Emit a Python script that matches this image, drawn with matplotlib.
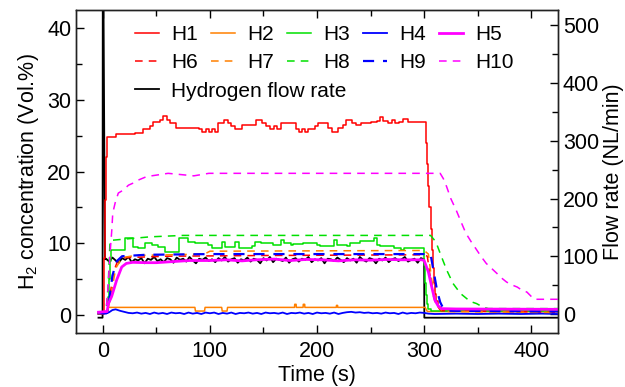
import numpy as np
import matplotlib
matplotlib.use("Agg")
import matplotlib.pyplot as plt
from matplotlib.ticker import MultipleLocator

plt.rcParams['font.family'] = ['Liberation Sans', 'DejaVu Sans']
plt.rcParams['mathtext.fontset'] = 'custom'
plt.rcParams['mathtext.rm'] = 'Liberation Sans'

# ---- data ----
h1_t = [-4, 1, 2, 3, 4, 12, 30, 38, 44, 47, 53, 56, 60, 63, 68, 90, 93, 96, 99, 102,
        105, 108, 113, 117, 120, 123, 130, 143, 149, 152, 156, 160, 163, 166, 180, 183,
        186, 189, 192, 198, 201, 210, 214, 220, 224, 227, 233, 236, 241, 250, 256, 259,
        262, 266, 270, 273, 277, 280, 285, 300, 302, 303, 304, 305, 306, 307, 308, 309,
        310, 311, 313, 316, 319, 425]
h1_v = [0.2, 8, 16, 22, 24.8, 25.2, 25.4, 25.9, 26.3, 26.9, 27.2, 27.7, 27.2, 26.7, 26.1,
        25.9, 25.5, 25.9, 25.5, 25.9, 25.5, 26.7, 27.2, 26.7, 26.3, 25.9, 26.5, 27.2, 26.7,
        26.3, 25.9, 26.3, 25.9, 26.7, 25.9, 25.5, 25.9, 25.5, 25.9, 26.3, 26.7, 26.1, 25.5,
        26.1, 26.5, 27.2, 26.7, 26.5, 26.7, 26.9, 27.0, 27.6, 27.0, 26.7, 27.2, 26.7, 26.9,
        27.3, 26.9, 26.9, 24, 21, 18, 15, 12, 9, 6.5, 4.5, 3, 2, 1.1, 0.7, 0.6, 0.6]

h2_t = [-4, 4, 5, 86, 86.5, 95, 95.5, 111, 111.5, 116, 116.5, 179, 179.2, 180.5, 180.7,
        187, 187.2, 188.5, 188.7, 218, 218.2, 219.2, 219.4, 301, 303, 425]
h2_v = [0.3, 0.3, 1.07, 1.07, 0.56, 0.56, 1.07, 1.07, 0.56, 0.56, 1.07, 1.07, 1.5, 1.5,
        1.07, 1.07, 1.5, 1.5, 1.07, 1.07, 1.35, 1.35, 1.07, 1.07, 0.5, 0.45]

h3_t = [-4, 4, 5, 6, 7, 8, 9, 21, 28, 33, 39, 46, 52, 58, 71, 80, 86, 98, 102, 111, 114,
        123, 127, 139, 142, 148, 159, 166, 169, 176, 178, 187, 200, 203, 216, 219, 228,
        231, 240, 253, 256, 259, 272, 278, 281, 296, 300, 301, 302, 303, 304, 306, 310, 425]
h3_v = [0.3, 0.5, 2.5, 5, 7.5, 9.1, 9.1, 10.7, 9.5, 9.3, 10.0, 9.8, 9.5, 8.8, 10.7, 10.2,
        10.0, 9.8, 9.3, 10.2, 9.5, 10.2, 9.3, 9.6, 10.2, 10.0, 9.8, 10.4, 10.0, 9.8, 9.9,
        10.0, 9.8, 9.6, 10.4, 9.8, 9.6, 10.0, 10.3, 10.7, 9.8, 9.6, 9.3, 9.1, 9.3, 9.3, 7,
        4.5, 2.8, 1.6, 0.8, 0.5, 0.5, 0.5]

h4_t = [-4, 3, 6, 9, 12, 16, 20, 24, 28, 32, 36, 40, 44, 48, 52, 56, 60, 64, 68, 72, 76,
        80, 84, 88, 92, 96, 100, 104, 108, 112, 116, 120, 124, 128, 132, 136, 140, 144,
        148, 152, 156, 160, 164, 168, 172, 176, 180, 184, 188, 192, 196, 200, 204, 208,
        212, 216, 220, 224, 228, 232, 236, 240, 244, 248, 252, 256, 260, 264, 268, 272,
        276, 280, 284, 288, 292, 296, 300, 304, 310, 330, 350, 370, 390, 410, 425]
h4_v = [0.2, 0.2, 0.4, 0.7, 0.8, 0.6, 0.45, 0.3, 0.25, 0.35, 0.2, 0.3, 0.15, 0.35, 0.2,
        0.3, 0.15, 0.35, 0.25, 0.3, 0.15, 0.35, 0.2, 0.3, 0.15, 0.35, 0.25, 0.35, 0.15,
        0.3, 0.2, 0.35, 0.15, 0.3, 0.25, 0.35, 0.2, 0.3, 0.15, 0.35, 0.25, 0.3, 0.2, 0.35,
        0.15, 0.3, 0.25, 0.35, 0.2, 0.3, 0.15, 0.35, 0.25, 0.3, 0.2, 0.35, 0.15, 0.3, 0.4,
        0.45, 0.35, 0.4, 0.3, 0.35, 0.25, 0.3, 0.2, 0.35, 0.25, 0.3, 0.15, 0.35, 0.2, 0.3,
        0.25, 0.35, 0.3, 0.2, 0.15, 0.2, 0.15, 0.2, 0.15, 0.2, 0.15]

h5_t = [-4, 4, 5.3, 8.3, 13, 17.7, 22, 28, 40, 50, 65, 81, 100, 115, 130, 143, 160, 175,
        190, 205, 220, 235, 250, 265, 280, 298, 300, 304, 307, 310, 313, 316, 330, 425]
h5_v = [0.4, 0.5, 1.6, 2.6, 4.9, 6.7, 7.2, 7.35, 7.3, 7.3, 7.45, 7.6, 7.6, 7.7, 7.55, 7.7,
        7.8, 7.6, 7.75, 7.7, 7.55, 7.7, 7.65, 7.75, 7.7, 7.7, 7.6, 6.0, 4.0, 2.1, 1.3, 0.9,
        0.85, 0.8]

h6_t = [-4, 4, 7, 10, 14, 20, 60, 150, 300, 303, 306, 309, 312, 316, 425]
h6_v = [0.3, 0.3, 3, 6, 7.6, 8.0, 8.2, 8.3, 8.4, 8.2, 5, 2.5, 1.2, 0.6, 0.4]

h7_t = [-4, 4, 8, 12, 18, 30, 95, 100, 300, 304, 307, 310, 314, 318, 425]
h7_v = [0.2, 0.3, 3, 6.5, 8.0, 8.3, 8.5, 8.9, 9.0, 8.5, 5, 2.5, 1.0, 0.5, 0.35]

h8_t = [-4, 3, 5, 6.8, 44, 75, 306, 311, 315, 321, 327, 334, 343, 349, 355, 360, 425]
h8_v = [0.2, 0.4, 4, 10.4, 10.9, 11.1, 11.1, 10.2, 8.6, 6.3, 4.4, 3.0, 1.9, 1.6, 1.1, 0.9, 0.9]

h9_t = [-4, 4, 6, 9, 13, 18, 40, 100, 306, 309, 312, 315, 318, 322, 425]
h9_v = [0.3, 0.3, 2, 5.5, 7.5, 8.2, 8.4, 8.5, 8.5, 6, 3.5, 1.8, 0.9, 0.6, 0.5]

h10_t = [-4, 3, 5, 7, 8.5, 9.3, 11.5, 14.5, 19, 24, 28.5, 33, 41, 50, 61, 85, 99, 315,
         318, 321, 325, 330, 335, 339, 344, 349, 353, 358, 363, 368, 372, 377, 382, 387,
         391, 396, 400, 403, 425]
h10_v = [0.3, 0.5, 4, 9, 12, 14.2, 15.6, 17, 17.4, 18.1, 18.4, 18.8, 19.3, 19.5, 19.75,
         19.4, 19.75, 19.75, 19, 17.9, 16.2, 14.6, 12.8, 11.4, 10.2, 9.1, 8.2, 7.2, 6.5,
         5.8, 5.2, 4.6, 4.2, 3.9, 3.5, 3.2, 2.6, 2.2, 2.2]

# hydrogen flow rate (right axis, NL/min)
flow_start_t = [-4, -0.2, 0, 0.5, 2]
flow_start_v = [-6, -6, 600, 600, 95]
flow_t = np.arange(3, 301, 3)
flow_v = [96, 91, 98, 93, 89, 97, 94, 99, 90, 95,
          93, 97, 88, 96, 94, 99, 92, 95, 90, 97,
          95, 89, 98, 94, 96, 91, 99, 93, 88, 96,
          94, 98, 92, 95, 90, 97, 93, 99, 91, 95,
          97, 89, 95, 93, 98, 91, 96, 94, 88, 97,
          93, 99, 90, 96, 94, 92, 98, 89, 95, 97,
          91, 96, 94, 99, 90, 95, 93, 97, 88, 96,
          95, 92, 98, 94, 90, 97, 93, 96, 89, 99,
          94, 91, 97, 95, 88, 96, 93, 98, 90, 95,
          97, 92, 95, 99, 91, 94, 96, 89, 97, 95]
flow_end_t = [300.2, 425]
flow_end_v = [-6, -6]

RED, ORANGE, GREEN, BLUE, MAG = '#ff0000', '#ff8000', '#00e000', '#0000ff', '#ff00ff'
dash = (0, (5, 4))
FS = 15.5

fig = plt.figure(figsize=(6.25, 3.87), dpi=100)
ax = fig.add_axes([0.1216, 0.1395, 0.7712, 0.8345])
ax2 = ax.twinx()
# concentration lines drawn above the flow-rate line
ax.set_zorder(2)
ax.patch.set_visible(False)

lf, = ax2.plot(np.concatenate([flow_start_t, flow_t, flow_end_t]),
               np.concatenate([flow_start_v, flow_v, flow_end_v]),
               color='black', lw=1.3, label='Hydrogen flow rate')

l1, = ax.plot(h1_t, h1_v, color=RED, lw=1.1, drawstyle='steps-post', label='H1')
l2, = ax.plot(h2_t, h2_v, color=ORANGE, lw=1.1, label='H2')
l3, = ax.plot(h3_t, h3_v, color=GREEN, lw=1.1, drawstyle='steps-post', label='H3')
l4, = ax.plot(h4_t, h4_v, color=BLUE, lw=1.3, label='H4')
l6, = ax.plot(h6_t, h6_v, color=RED, lw=1.1, ls=dash, label='H6')
l7, = ax.plot(h7_t, h7_v, color=ORANGE, lw=1.1, ls=dash, label='H7')
l8, = ax.plot(h8_t, h8_v, color=GREEN, lw=1.1, ls=dash, label='H8')
l9, = ax.plot(h9_t, h9_v, color=BLUE, lw=1.6, ls=dash, label='H9')
l10, = ax.plot(h10_t, h10_v, color=MAG, lw=1.1, ls=dash, label='H10')
l5, = ax.plot(h5_t, h5_v, color=MAG, lw=2.0, label='H5')

ax.set_xlim(-25, 425)
ax.set_ylim(-2.5, 42.5)
ax2.set_ylim(-32.5, 526)

ax.xaxis.set_major_locator(MultipleLocator(100))
ax.xaxis.set_minor_locator(MultipleLocator(50))
ax.yaxis.set_major_locator(MultipleLocator(10))
ax.yaxis.set_minor_locator(MultipleLocator(5))
ax2.yaxis.set_major_locator(MultipleLocator(100))
ax2.yaxis.set_minor_locator(MultipleLocator(50))

ax.tick_params(axis='both', which='both', direction='in', top=True, right=False,
               labelsize=FS, width=1)
ax.tick_params(axis='x', which='both', pad=6)
ax.tick_params(which='major', length=6)
ax.tick_params(which='minor', length=4)
ax2.tick_params(axis='y', which='both', direction='in', labelsize=FS, width=1)
ax2.tick_params(which='major', length=6)
ax2.tick_params(which='minor', length=4)
for a in (ax, ax2):
    for s in a.spines.values():
        s.set_linewidth(1.0)
        s.set_color('#222222')

ax.set_xlabel('Time (s)', fontsize=FS, labelpad=2)
ax.set_ylabel(r'H$\mathregular{_2}$ concentration (Vol.%)', fontsize=FS, labelpad=4)
ax2.set_ylabel('Flow rate (NL/min)', fontsize=FS, labelpad=3)

# sensors: two rows of five, then the flow-rate entry on its own row
leg_kw = dict(frameon=False, fontsize=15, handlelength=1.15, handletextpad=0.58,
              borderaxespad=0, borderpad=0, loc='upper left')
sensor_handles = [l1, l6, l2, l7, l3, l8, l4, l9, l5, l10]
leg = ax.legend(sensor_handles, [h.get_label() for h in sensor_handles], ncol=5,
                bbox_to_anchor=(0.1224, 0.953), columnspacing=0.64, labelspacing=0.42,
                **leg_kw)
ax.add_artist(leg)
ax.legend([lf], [lf.get_label()], bbox_to_anchor=(0.1224, 0.778), **leg_kw)

fig.savefig('out.png', dpi=100)
